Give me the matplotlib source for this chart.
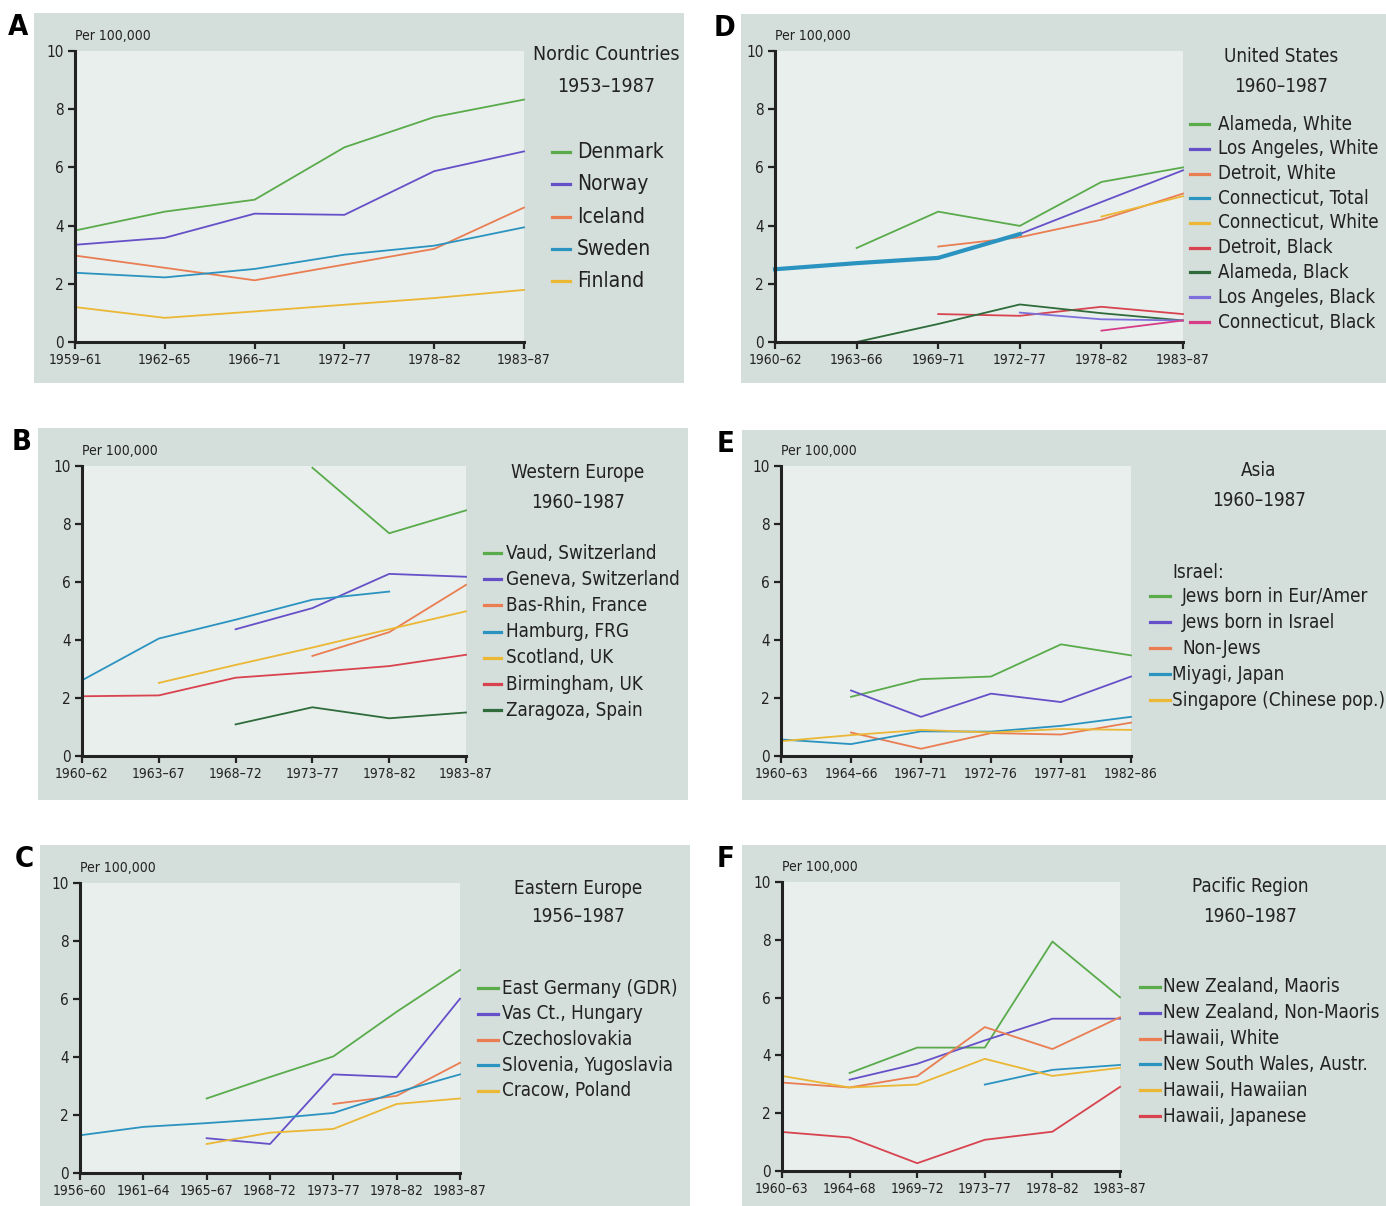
import numpy as np
import matplotlib.pyplot as plt
from matplotlib.lines import Line2D
from matplotlib.patches import Rectangle

plt.rcParams['font.family'] = ['DejaVu Sans']
plt.rcParams['font.stretch'] = 'condensed'

nan = np.nan

# colours used in the original figure
GREEN = '#5aab4b'
PURPLE = '#6650c8'
ORANGE = '#ea7d52'
BLUE = '#2b93c0'
YELLOW = '#ebb735'
RED = '#d8434f'
DKGREEN = '#2f6b3b'
LAVENDER = '#7d70dc'
PINK = '#d63d88'
BG = '#d4dedb'
PLOT_BG = '#e8efed'

# A - Nordic countries
nordic_periods = ['1959–61', '1962–65', '1966–71', '1972–77', '1978–82', '1983–87']
denmark = [3.83, 4.48, 4.89, 6.69, 7.73, 8.33]
norway = [3.34, 3.58, 4.41, 4.37, 5.87, 6.55]
iceland = [2.97, 2.55, 2.12, 2.66, 3.20, 4.62]
sweden = [2.38, 2.22, 2.51, 3.00, 3.31, 3.94]
finland = [1.20, 0.83, 1.05, 1.28, 1.51, 1.79]

# D - United States
us_periods = ['1960–62', '1963–66', '1969–71', '1972–77', '1978–82', '1983–87']
alameda_white = [nan, 3.23, 4.48, 3.99, 5.50, 6.00]
la_white = [nan, nan, nan, 3.71, 4.81, 5.90]
detroit_white = [nan, nan, 3.28, 3.60, 4.20, 5.10]
conn_total = [2.50, 2.71, 2.89, 3.71, nan, nan]
conn_white = [nan, nan, nan, nan, 4.31, 5.01]
detroit_black = [nan, nan, 0.96, 0.90, 1.21, 0.96]
alameda_black = [nan, 0.00, 0.62, 1.29, 0.99, 0.74]
la_black = [nan, nan, nan, 1.01, 0.78, 0.74]
conn_black = [nan, nan, nan, nan, 0.39, 0.74]

# B - Western Europe
west_periods = ['1960–62', '1963–67', '1968–72', '1973–77', '1978–82', '1983–87']
vaud = [nan, nan, nan, 9.94, 7.68, 8.47]
geneva = [nan, nan, 4.37, 5.10, 6.28, 6.18]
bas_rhin = [nan, nan, nan, 3.45, 4.27, 5.90]
hamburg = [2.61, 4.05, 4.70, 5.39, 5.67, nan]
scotland = [nan, 2.52, 3.14, 3.74, 4.37, 4.99]
birmingham = [2.06, 2.09, 2.70, 2.89, 3.10, 3.49]
zaragoza = [nan, nan, 1.09, 1.68, 1.30, 1.50]

# E - Asia
asia_periods = ['1960–63', '1964–66', '1967–71', '1972–76', '1977–81', '1982–86']
jews_euram = [nan, 2.04, 2.65, 2.74, 3.85, 3.47]
jews_israel = [nan, 2.26, 1.35, 2.15, 1.86, 2.74]
non_jews = [nan, 0.81, 0.25, 0.79, 0.74, 1.15]
miyagi = [0.57, 0.41, 0.85, 0.84, 1.04, 1.35]
singapore = [0.51, 0.72, 0.90, 0.81, 0.93, 0.90]

# C - Eastern Europe
east_periods = ['1956–60', '1961–64', '1965–67', '1968–72', '1973–77', '1978–82', '1983–87']
gdr = [nan, nan, 2.57, 3.31, 4.02, 5.56, 7.00]
vas = [nan, nan, 1.20, 1.00, 3.40, 3.31, 6.01]
czech = [nan, nan, nan, nan, 2.38, 2.66, 3.80]
slovenia = [1.30, 1.59, 1.72, 1.87, 2.07, 2.78, 3.40]
cracow = [nan, nan, 1.00, 1.39, 1.52, 2.38, 2.57]

# F - Pacific region
pac_periods = ['1960–63', '1964–68', '1969–72', '1973–77', '1978–82', '1983–87']
nz_maori = [nan, 3.39, 4.27, 4.27, 7.94, 6.01]
nz_non_maori = [nan, 3.16, 3.71, 4.52, 5.27, 5.27]
hawaii_white = [3.06, 2.89, 3.28, 4.98, 4.22, 5.32]
nsw = [nan, nan, nan, 2.99, 3.50, 3.67]
hawaii_hawaiian = [3.29, 2.89, 2.99, 3.88, 3.29, 3.57]
hawaii_japanese = [1.35, 1.16, 0.27, 1.08, 1.36, 2.91]

W, H = 1386, 1206
fig = plt.figure(figsize=(W / 100, H / 100), dpi=100)


def fx(x):
    return x / W


def fy(y):
    return 1 - y / H


def draw_panel(letter, bg, axbox, periods, series, titles, title_x, title_ys,
               line_x, text_x, leg_y, leg_dy, fs_leg=13.5, fs_title=13.5):
    # grey panel behind everything
    x0, y0, x1, y1 = bg
    fig.patches.append(Rectangle((fx(x0), fy(y1)), (x1 - x0) / W, (y1 - y0) / H,
                                 transform=fig.transFigure, facecolor=BG,
                                 edgecolor='none', zorder=-1))
    ax0, ay0, ax1, ay1 = axbox
    ax = fig.add_axes([fx(ax0), fy(ay1), (ax1 - ax0) / W, (ay1 - ay0) / H])
    ax.set_facecolor(PLOT_BG)
    xs = np.arange(len(periods))
    for name, vals, color, lw in series:
        ax.plot(xs, vals, color=color, lw=lw, clip_on=False, zorder=3)
    ax.set_xlim(0, len(periods) - 1)
    ax.set_ylim(0, 10)
    ax.set_xticks(xs)
    ax.set_xticklabels(periods)
    ax.set_yticks([0, 2, 4, 6, 8, 10])
    ax.tick_params(direction='out', length=5, width=1.6, labelsize=10, pad=3,
                   colors='#222222')
    ax.tick_params(axis='y', labelsize=11)
    for s in ['top', 'right']:
        ax.spines[s].set_visible(False)
    for s in ['left', 'bottom']:
        ax.spines[s].set_linewidth(2.2)
        ax.spines[s].set_color('#222222')
        ax.spines[s].set_zorder(4)

    fig.text(fx(ax0), fy(ay0 - 15), 'Per 100,000', fontsize=10, va='center',
             color='#222222')
    fig.text(fx(x0 - 16), fy(y0 + 14), letter, fontsize=21, fontweight='bold',
             ha='center', va='center', color='black')
    for t, ty in zip(titles, title_ys):
        fig.text(fx(title_x), fy(ty), t, fontsize=fs_title, ha='center', va='center',
                 color='#222222')

    # legend keys and labels
    for i, (name, vals, color, lw) in enumerate(series):
        y = leg_y + i * leg_dy
        tx = text_x[i] if isinstance(text_x, list) else text_x
        fig.add_artist(Line2D([fx(line_x[0]), fx(line_x[1])], [fy(y), fy(y)],
                              color=color, lw=2.3, transform=fig.transFigure))
        fig.text(fx(tx), fy(y), name, fontsize=fs_leg, va='center', color='#222222')
    return ax


draw_panel('A', (34, 13, 684, 383), (75, 51, 524, 342), nordic_periods,
           [('Denmark', denmark, GREEN, 1.3),
            ('Norway', norway, PURPLE, 1.3),
            ('Iceland', iceland, ORANGE, 1.3),
            ('Sweden', sweden, BLUE, 1.3),
            ('Finland', finland, YELLOW, 1.3)],
           ['Nordic Countries', '1953–1987'], 606, [55, 87],
           (552, 570), 577, 152, 32.3, fs_leg=15, fs_title=14)

draw_panel('D', (741, 14, 1386, 383), (775, 51, 1183, 342), us_periods,
           [('Alameda, White', alameda_white, GREEN, 1.3),
            ('Los Angeles, White', la_white, PURPLE, 1.3),
            ('Detroit, White', detroit_white, ORANGE, 1.3),
            ('Connecticut, Total', conn_total, BLUE, 3.0),
            ('Connecticut, White', conn_white, YELLOW, 1.3),
            ('Detroit, Black', detroit_black, RED, 1.3),
            ('Alameda, Black', alameda_black, DKGREEN, 1.3),
            ('Los Angeles, Black', la_black, LAVENDER, 1.3),
            ('Connecticut, Black', conn_black, PINK, 1.3)],
           ['United States', '1960–1987'], 1281, [57, 87],
           (1190, 1209), 1218, 124, 24.75)

draw_panel('B', (38, 428, 688, 800), (82, 466, 466, 756), west_periods,
           [('Vaud, Switzerland', vaud, GREEN, 1.3),
            ('Geneva, Switzerland', geneva, PURPLE, 1.3),
            ('Bas-Rhin, France', bas_rhin, ORANGE, 1.3),
            ('Hamburg, FRG', hamburg, BLUE, 1.3),
            ('Scotland, UK', scotland, YELLOW, 1.3),
            ('Birmingham, UK', birmingham, RED, 1.3),
            ('Zaragoza, Spain', zaragoza, DKGREEN, 1.3)],
           ['Western Europe', '1960–1987'], 578, [472, 502],
           (484, 501), 506, 553, 26.2)

draw_panel('E', (742, 430, 1386, 800), (781, 466, 1131, 756), asia_periods,
           [('Jews born in Eur/Amer', jews_euram, GREEN, 1.3),
            ('Jews born in Israel', jews_israel, PURPLE, 1.3),
            ('Non-Jews', non_jews, ORANGE, 1.3),
            ('Miyagi, Japan', miyagi, BLUE, 1.3),
            ('Singapore (Chinese pop.)', singapore, YELLOW, 1.3)],
           ['Asia', '1960–1987'], 1259, [470, 500],
           (1150, 1170), [1182, 1182, 1182, 1172, 1172], 596, 26)
fig.text(fx(1172), fy(572), 'Israel:', fontsize=13.5, va='center', color='#222222')

draw_panel('C', (40, 845, 690, 1206), (80, 883, 460, 1173), east_periods,
           [('East Germany (GDR)', gdr, GREEN, 1.3),
            ('Vas Ct., Hungary', vas, PURPLE, 1.3),
            ('Czechoslovakia', czech, ORANGE, 1.3),
            ('Slovenia, Yugoslavia', slovenia, BLUE, 1.3),
            ('Cracow, Poland', cracow, YELLOW, 1.3)],
           ['Eastern Europe', '1956–1987'], 578, [888, 916],
           (478, 498), 502, 988, 25.75)

draw_panel('F', (742, 845, 1386, 1206), (782, 882, 1120, 1171), pac_periods,
           [('New Zealand, Maoris', nz_maori, GREEN, 1.3),
            ('New Zealand, Non-Maoris', nz_non_maori, PURPLE, 1.3),
            ('Hawaii, White', hawaii_white, ORANGE, 1.3),
            ('New South Wales, Austr.', nsw, BLUE, 1.3),
            ('Hawaii, Hawaiian', hawaii_hawaiian, YELLOW, 1.3),
            ('Hawaii, Japanese', hawaii_japanese, RED, 1.3)],
           ['Pacific Region', '1960–1987'], 1250, [887, 916],
           (1140, 1160), 1163, 987, 25.8)

fig.savefig('out.png', dpi=100, facecolor='white')
